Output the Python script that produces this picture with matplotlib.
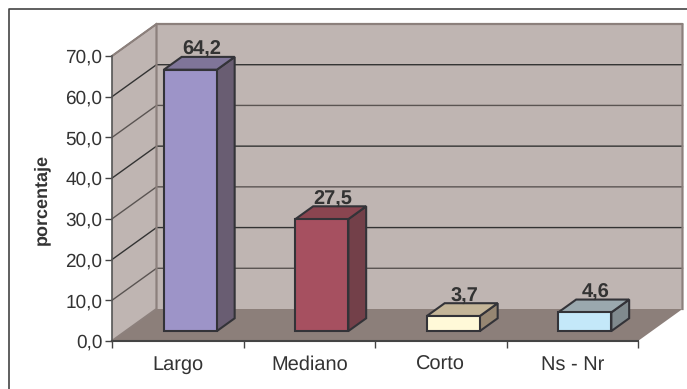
import matplotlib
matplotlib.use("Agg")
import matplotlib.pyplot as plt

plt.rcParams["text.hinting"] = "no_hinting"
plt.rcParams["text.hinting_factor"] = 1

categories = ["Largo", "Mediano", "Corto", "Ns - Nr"]
values = [64.2, 27.5, 3.7, 4.6]
labels = ["64,2", "27,5", "3,7", "4,6"]
front_colors = ["#9D94C8", "#A65060", "#FFF9D8", "#C4E8F9"]
top_colors = ["#7F7599", "#8A4550", "#C4B598", "#9AA8AE"]
side_colors = ["#695D72", "#734049", "#968672", "#808A8E"]
y_ticks = [0, 10, 20, 30, 40, 50, 60, 70]
y_labels = ["0,0", "10,0", "20,0", "30,0", "40,0", "50,0", "60,0", "70,0"]

W, H = 687, 389
x0, x1, ybot, ytop = 112, 638, 341, 56
fig = plt.figure(figsize=(W / 100, H / 100), dpi=100, facecolor="white")
ax = fig.add_axes([x0 / W, 1 - ybot / H, (x1 - x0) / W, (ybot - ytop) / H])
ax.set_xlim(0, 4)
ax.set_ylim(0, 70)
ax.patch.set_visible(False)

px = 4 / (x1 - x0)
py = 70 / (ybot - ytop)
DX, DY = 44.5 * px, 32 * py      # depth of the whole floor
TEXT = "#333333"
EDGE = "#333338"
WALL = "#BFB5B2"
WALLE = "#8C807C"
FLOOR = "#8C7F7A"


def P(x, y, d=0.0):
    return (x + DX * d, y + DY * d)


def poly(pts, fc, ec=None, lw=0, z=1):
    ax.fill(*zip(*pts), facecolor=fc, edgecolor=ec if ec else fc, linewidth=lw,
            clip_on=False, zorder=z, joinstyle="miter")


# walls and floor
poly([P(0, 0, 1), P(4, 0, 1), P(4, 70, 1), P(0, 70, 1)], WALL, z=1)
poly([P(0, 0), P(0, 0, 1), P(0, 70, 1), P(0, 70)], WALL, z=1)
poly([P(0, 0), P(4, 0), P(4, 0, 1), P(0, 0, 1)], FLOOR, z=2)

# gridlines
for i, t in enumerate(y_ticks[1:]):
    ax.plot(*zip(P(0, t), P(0, t, 1), P(4, t, 1)),
            color="#333333" if i % 2 == 1 else "#5A5452",
            lw=1.0, clip_on=False, zorder=2, solid_joinstyle="miter")
ax.plot(*zip(P(0, 0), P(0, 0, 1), P(0, 70, 1), P(4, 70, 1), P(4, 0, 1)),
        color=WALLE, lw=1.6, clip_on=False, zorder=2)
ax.plot(*zip(P(0, 70), P(0, 70, 1)), color=WALLE, lw=1.5, clip_on=False, zorder=2)

# bars
bar_w = 53 * px
d0, d1 = 0.31, 0.71
for i, (v, lab) in enumerate(zip(values, labels)):
    a = i + 0.5 - bar_w / 2 - 0.009
    b = a + bar_w
    poly([P(b, 0, d0), P(b, 0, d1), P(b, v, d1), P(b, v, d0)], side_colors[i], EDGE, 1.5, 5)
    poly([P(a, v, d0), P(b, v, d0), P(b, v, d1), P(a, v, d1)], top_colors[i], EDGE, 1.5, 5)
    poly([P(a, 0, d0), P(b, 0, d0), P(b, v, d0), P(a, v, d0)], front_colors[i], EDGE, 1.5, 6)
    tx = P((a + b) / 2, v, (d0 + d1) / 2)[0]
    ty = P((a + b) / 2, v, d1)[1]
    ax.text(tx + 2 * px, ty - 2.5 * py, lab, ha="center", va="bottom", fontsize=14.5, fontweight="bold",
            color=TEXT, family="Liberation Sans", zorder=7, clip_on=False)

# axes
for s in ("top", "right"):
    ax.spines[s].set_visible(False)
ax.spines["left"].set_color("#555555")
ax.spines["bottom"].set_color("#444444")
ax.spines["left"].set_zorder(4)
ax.spines["bottom"].set_zorder(4)
ax.spines["left"].set_linewidth(1.2)
ax.spines["bottom"].set_linewidth(1.5)
ax.set_yticks(y_ticks, y_labels, family="Liberation Sans", fontsize=13.5, color=TEXT)
ax.set_xticks(range(5), [""] * 5)
ax.set_xticks([i + 0.5 for i in range(4)], categories, minor=True,
              family="Liberation Sans", fontsize=14.5, color=TEXT)
ax.tick_params(axis="both", which="major", length=5, width=1, color="#444444")
ax.tick_params(axis="y", pad=2)
ax.tick_params(axis="x", which="minor", length=0, pad=10)
ax.set_ylabel("porcentaje", family="Liberation Sans", fontsize=13.2, fontweight="bold", color=TEXT)
ax.yaxis.set_label_coords((50 - x0) / (x1 - x0), 0.498)

# outer frame
fig.add_artist(plt.Line2D([9 / W, 9 / W, 1], [0, 1 - 9 / H, 1 - 9 / H],
                          transform=fig.transFigure, color="#444444", lw=1.2))

fig.savefig("out.png", dpi=100, facecolor="white")
